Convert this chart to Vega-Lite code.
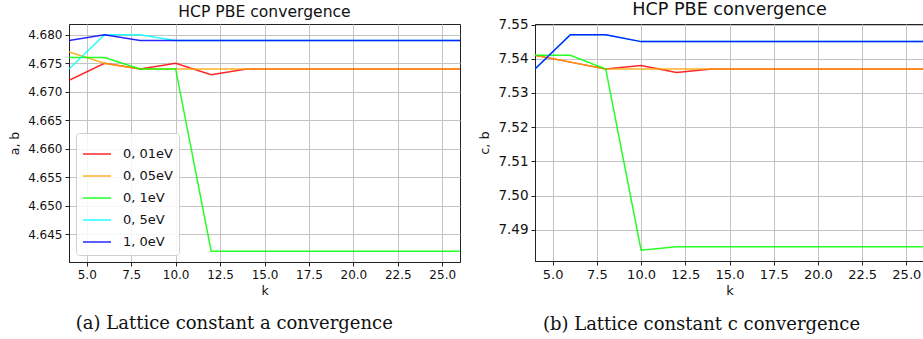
{
  "$schema": "https://vega.github.io/schema/vega-lite/v6.json",
  "background": "white",
  "padding": {"left": 8, "top": 0, "right": 0, "bottom": 0},
  "spacing": 17,
  "datasets": {
    "a": [
      {"k":4,"series":"0, 01eV","value":4.672},{"k":6,"series":"0, 01eV","value":4.675},{"k":8,"series":"0, 01eV","value":4.674},{"k":10,"series":"0, 01eV","value":4.675},{"k":12,"series":"0, 01eV","value":4.673},{"k":14,"series":"0, 01eV","value":4.674},{"k":16,"series":"0, 01eV","value":4.674},{"k":18,"series":"0, 01eV","value":4.674},{"k":20,"series":"0, 01eV","value":4.674},{"k":22,"series":"0, 01eV","value":4.674},{"k":24,"series":"0, 01eV","value":4.674},{"k":26,"series":"0, 01eV","value":4.674},
      {"k":4,"series":"0, 05eV","value":4.677},{"k":6,"series":"0, 05eV","value":4.675},{"k":8,"series":"0, 05eV","value":4.674},{"k":10,"series":"0, 05eV","value":4.674},{"k":12,"series":"0, 05eV","value":4.674},{"k":14,"series":"0, 05eV","value":4.674},{"k":16,"series":"0, 05eV","value":4.674},{"k":18,"series":"0, 05eV","value":4.674},{"k":20,"series":"0, 05eV","value":4.674},{"k":22,"series":"0, 05eV","value":4.674},{"k":24,"series":"0, 05eV","value":4.674},{"k":26,"series":"0, 05eV","value":4.674},
      {"k":4,"series":"0, 1eV","value":4.676},{"k":6,"series":"0, 1eV","value":4.676},{"k":8,"series":"0, 1eV","value":4.674},{"k":10,"series":"0, 1eV","value":4.674},{"k":12,"series":"0, 1eV","value":4.642},{"k":14,"series":"0, 1eV","value":4.642},{"k":16,"series":"0, 1eV","value":4.642},{"k":18,"series":"0, 1eV","value":4.642},{"k":20,"series":"0, 1eV","value":4.642},{"k":22,"series":"0, 1eV","value":4.642},{"k":24,"series":"0, 1eV","value":4.642},{"k":26,"series":"0, 1eV","value":4.642},
      {"k":4,"series":"0, 5eV","value":4.674},{"k":6,"series":"0, 5eV","value":4.680},{"k":8,"series":"0, 5eV","value":4.680},{"k":10,"series":"0, 5eV","value":4.679},{"k":12,"series":"0, 5eV","value":4.679},{"k":14,"series":"0, 5eV","value":4.679},{"k":16,"series":"0, 5eV","value":4.679},{"k":18,"series":"0, 5eV","value":4.679},{"k":20,"series":"0, 5eV","value":4.679},{"k":22,"series":"0, 5eV","value":4.679},{"k":24,"series":"0, 5eV","value":4.679},{"k":26,"series":"0, 5eV","value":4.679},
      {"k":4,"series":"1, 0eV","value":4.679},{"k":6,"series":"1, 0eV","value":4.680},{"k":8,"series":"1, 0eV","value":4.679},{"k":10,"series":"1, 0eV","value":4.679},{"k":12,"series":"1, 0eV","value":4.679},{"k":14,"series":"1, 0eV","value":4.679},{"k":16,"series":"1, 0eV","value":4.679},{"k":18,"series":"1, 0eV","value":4.679},{"k":20,"series":"1, 0eV","value":4.679},{"k":22,"series":"1, 0eV","value":4.679},{"k":24,"series":"1, 0eV","value":4.679},{"k":26,"series":"1, 0eV","value":4.679}
    ],
    "c": [
      {"k":4,"series":"0, 01eV","value":7.541},{"k":6,"series":"0, 01eV","value":7.539},{"k":8,"series":"0, 01eV","value":7.537},{"k":10,"series":"0, 01eV","value":7.538},{"k":12,"series":"0, 01eV","value":7.536},{"k":14,"series":"0, 01eV","value":7.537},{"k":16,"series":"0, 01eV","value":7.537},{"k":18,"series":"0, 01eV","value":7.537},{"k":20,"series":"0, 01eV","value":7.537},{"k":22,"series":"0, 01eV","value":7.537},{"k":24,"series":"0, 01eV","value":7.537},{"k":26,"series":"0, 01eV","value":7.537},
      {"k":4,"series":"0, 05eV","value":7.541},{"k":6,"series":"0, 05eV","value":7.539},{"k":8,"series":"0, 05eV","value":7.537},{"k":10,"series":"0, 05eV","value":7.537},{"k":12,"series":"0, 05eV","value":7.537},{"k":14,"series":"0, 05eV","value":7.537},{"k":16,"series":"0, 05eV","value":7.537},{"k":18,"series":"0, 05eV","value":7.537},{"k":20,"series":"0, 05eV","value":7.537},{"k":22,"series":"0, 05eV","value":7.537},{"k":24,"series":"0, 05eV","value":7.537},{"k":26,"series":"0, 05eV","value":7.537},
      {"k":4,"series":"0, 1eV","value":7.541},{"k":6,"series":"0, 1eV","value":7.541},{"k":8,"series":"0, 1eV","value":7.537},{"k":10,"series":"0, 1eV","value":7.484},{"k":12,"series":"0, 1eV","value":7.485},{"k":14,"series":"0, 1eV","value":7.485},{"k":16,"series":"0, 1eV","value":7.485},{"k":18,"series":"0, 1eV","value":7.485},{"k":20,"series":"0, 1eV","value":7.485},{"k":22,"series":"0, 1eV","value":7.485},{"k":24,"series":"0, 1eV","value":7.485},{"k":26,"series":"0, 1eV","value":7.485},
      {"k":4,"series":"0, 5eV","value":7.537},{"k":6,"series":"0, 5eV","value":7.547},{"k":8,"series":"0, 5eV","value":7.547},{"k":10,"series":"0, 5eV","value":7.545},{"k":12,"series":"0, 5eV","value":7.545},{"k":14,"series":"0, 5eV","value":7.545},{"k":16,"series":"0, 5eV","value":7.545},{"k":18,"series":"0, 5eV","value":7.545},{"k":20,"series":"0, 5eV","value":7.545},{"k":22,"series":"0, 5eV","value":7.545},{"k":24,"series":"0, 5eV","value":7.545},{"k":26,"series":"0, 5eV","value":7.545},
      {"k":4,"series":"1, 0eV","value":7.537},{"k":6,"series":"1, 0eV","value":7.547},{"k":8,"series":"1, 0eV","value":7.547},{"k":10,"series":"1, 0eV","value":7.545},{"k":12,"series":"1, 0eV","value":7.545},{"k":14,"series":"1, 0eV","value":7.545},{"k":16,"series":"1, 0eV","value":7.545},{"k":18,"series":"1, 0eV","value":7.545},{"k":20,"series":"1, 0eV","value":7.545},{"k":22,"series":"1, 0eV","value":7.545},{"k":24,"series":"1, 0eV","value":7.545},{"k":26,"series":"1, 0eV","value":7.545}
    ]
  },
  "resolve": {"legend": {"color": "independent"}, "scale": {"color": "independent"}},
  "hconcat": [
    {
      "title": {"text": "(a) Lattice constant a convergence", "orient": "bottom", "font": "DejaVu Serif", "fontSize": 18, "fontWeight": "normal", "color": "#111", "offset": 18, "frame": "bounds", "anchor": "middle"},
      "resolve": {"legend": {"color": "independent"}, "scale": {"color": "independent"}},
      "vconcat": [
        {
          "width": 391,
          "height": 238,
          "title": {"text": "HCP PBE convergence", "font": "DejaVu Sans", "fontSize": 15.6, "fontWeight": "normal", "color": "#111", "offset": 0, "dy": -3, "frame": "group", "anchor": "middle"},
          "data": {"name": "a"},
          "mark": {"type": "line", "strokeWidth": 1.5, "opacity": 0.85, "clip": true},
          "encoding": {
            "x": {"field": "k", "type": "quantitative", "scale": {"domain": [4, 26], "nice": false, "zero": false},
              "axis": {"title": "k", "values": [5, 7.5, 10, 12.5, 15, 17.5, 20, 22.5, 25], "format": ".1f", "labelFontSize": 12, "titleFontSize": 12.5, "titlePadding": 4}},
            "y": {"field": "value", "type": "quantitative", "scale": {"domain": [4.6401, 4.6819], "nice": false, "zero": false},
              "axis": {"title": "a, b", "values": [4.645, 4.65, 4.655, 4.66, 4.665, 4.67, 4.675, 4.68], "format": ".3f", "labelFontSize": 12, "titleFontSize": 12.5, "titlePadding": 6}},
            "color": {"field": "series", "type": "nominal",
              "scale": {"domain": ["0, 01eV", "0, 05eV", "0, 1eV", "0, 5eV", "1, 0eV"], "range": ["#ff0000", "#ffa500", "#00ff00", "#00ffff", "#0000ff"]},
              "legend": {"title": null, "orient": "bottom-left", "offset": 7, "padding": 6, "fillColor": "rgba(255,255,255,0.85)", "strokeColor": "#d0d0d0", "cornerRadius": 3,
                "symbolType": "stroke", "symbolSize": 784, "symbolStrokeWidth": 1.5, "labelFont": "DejaVu Sans", "labelFontSize": 13, "labelColor": "#111", "labelOffset": 11, "rowPadding": -6}}
          }
        }
      ]
    },
    {
      "title": {"text": "(b) Lattice constant c convergence", "orient": "bottom", "font": "DejaVu Serif", "fontSize": 18, "fontWeight": "normal", "color": "#111", "offset": 18, "frame": "bounds", "anchor": "middle"},
      "resolve": {"legend": {"color": "independent"}, "scale": {"color": "independent"}},
      "vconcat": [
        {
          "width": 389,
          "height": 237,
          "title": {"text": "HCP PBE convergence", "font": "DejaVu Sans", "fontSize": 17.6, "fontWeight": "normal", "color": "#111", "offset": 0, "dy": 1, "frame": "group", "anchor": "middle"},
          "data": {"name": "c"},
          "mark": {"type": "line", "strokeWidth": 1.5, "opacity": 0.85, "clip": true},
          "encoding": {
            "x": {"field": "k", "type": "quantitative", "scale": {"domain": [4, 26], "nice": false, "zero": false},
              "axis": {"title": "k", "values": [5, 7.5, 10, 12.5, 15, 17.5, 20, 22.5, 25], "format": ".1f", "labelFontSize": 13, "titleFontSize": 13, "titlePadding": 3}},
            "y": {"field": "value", "type": "quantitative", "scale": {"domain": [7.48085, 7.55015], "nice": false, "zero": false},
              "axis": {"title": "c, b", "values": [7.49, 7.5, 7.51, 7.52, 7.53, 7.54, 7.55], "format": ".2f", "labelFontSize": 13.5, "titleFontSize": 13, "titlePadding": 6}},
            "color": {"field": "series", "type": "nominal",
              "scale": {"domain": ["0, 01eV", "0, 05eV", "0, 1eV", "0, 5eV", "1, 0eV"], "range": ["#ff0000", "#ffa500", "#00ff00", "#00ffff", "#0000ff"]},
              "legend": null}
          }
        }
      ]
    }
  ],
  "config": {
    "font": "DejaVu Sans",
    "view": {"stroke": "#222", "strokeWidth": 1},
    "axis": {
      "labelFont": "DejaVu Sans", "titleFont": "DejaVu Sans", "labelColor": "#111", "titleColor": "#111",
      "titleFontWeight": "normal", "domainColor": "#222", "domainWidth": 1, "tickColor": "#222", "tickSize": 4, "labelPadding": 3,
      "grid": true, "gridColor": "#c4c4c4", "gridWidth": 1, "labelFlush": false, "labelOverlap": false
    }
  }
}
